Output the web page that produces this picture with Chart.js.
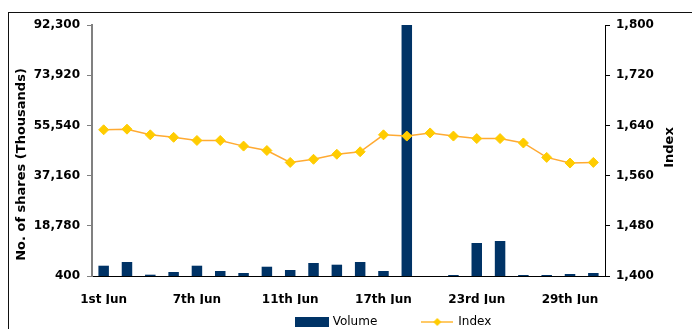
<!DOCTYPE html>
<html>
<head>
<meta charset="utf-8">
<script src="https://cdn.jsdelivr.net/npm/chart.js@4.4.1/dist/chart.umd.min.js"></script>
<style>
  html, body { margin: 0; padding: 0; background: #fff; }
  #wrap { position: relative; width: 692px; height: 329px; overflow: hidden; }
  #frame { position: absolute; left: 8px; top: 12px; width: 720px; height: 340px;
           border-left: 1px solid #111; border-top: 1px solid #111; pointer-events: none; }
</style>
</head>
<body>
<div id="wrap">
  <canvas id="volChart" width="692" height="329"></canvas>
  <div id="frame"></div>
</div>
<script>
const days = ["1st Jun", "2nd Jun", "3rd Jun", "4th Jun", "7th Jun", "8th Jun", "9th Jun",
  "10th Jun", "11th Jun", "14th Jun", "15th Jun", "16th Jun", "17th Jun", "18th Jun",
  "21st Jun", "22nd Jun", "23rd Jun", "24th Jun", "25th Jun", "28th Jun", "29th Jun", "30th Jun"];
const volume = [4170, 5520, 880, 1860, 4170, 2230, 1500, 3800, 2600, 5160, 4540,
  5520, 2230, 92300, 400, 770, 12480, 13210, 770, 770, 1130, 1500];
const indexVal = [1633, 1634, 1625, 1621, 1616, 1616, 1607, 1600, 1581, 1586, 1594,
  1598, 1625, 1623, 1628, 1623, 1619, 1619, 1612, 1589, 1580, 1581];
const volTicks = [400, 18780, 37160, 55540, 73920, 92300];
const idxTicks = [1400, 1480, 1560, 1640, 1720, 1800];
const volTitle = "No. of shares (Thousands)";
const idxTitle = "Index";

Chart.defaults.font.family = "'DejaVu Sans', sans-serif";
Chart.defaults.color = "#000";

function commas(v) {
  return String(v).replace(/\B(?=(\d{3})+(?!\d))/g, ",");
}

// legend swatches: navy block for volume, line with diamond for index
function volIcon() {
  const c = document.createElement("canvas");
  c.width = 34; c.height = 10;
  const g = c.getContext("2d");
  g.fillStyle = "#003366";
  g.fillRect(0, 0, 34, 10);
  return c;
}
function idxIcon() {
  const c = document.createElement("canvas");
  c.width = 32; c.height = 10;
  const g = c.getContext("2d");
  g.strokeStyle = "#FFC966";
  g.lineWidth = 2;
  g.beginPath(); g.moveTo(0, 5); g.lineTo(32, 5); g.stroke();
  g.fillStyle = "#FFCC00";
  g.beginPath(); g.moveTo(12, 5); g.lineTo(16, 1); g.lineTo(20, 5); g.lineTo(16, 9); g.closePath(); g.fill();
  return c;
}
const legendIcons = [volIcon(), idxIcon()];

// move legend row to where the original sits (keep bottom so it is not clipped)
const legendShift = {
  id: "legendShift",
  afterLayout(chart) {
    const lg = chart.legend;
    lg.left += 48; lg.right += 48;
    lg.top -= 33;
  }
};

// both axis titles read bottom-to-top, like the original
const axisTitles = {
  id: "axisTitles",
  afterDraw(chart) {
    const ctx = chart.ctx;
    const { y, y1 } = chart.scales;
    const mid = (y.top + y.bottom) / 2;
    const items = [
      [volTitle, y.left + 21.5, mid + 14],
      [idxTitle, y1.right - 22.5, mid - 3],
    ];
    ctx.save();
    ctx.font = "bold 13px 'DejaVu Sans'";
    ctx.fillStyle = "#000";
    ctx.textAlign = "center";
    ctx.textBaseline = "middle";
    items.forEach(([t, x, yy]) => {
      ctx.save();
      ctx.translate(x, yy);
      ctx.rotate(-Math.PI / 2);
      ctx.fillText(t, 0, 0);
      ctx.restore();
    });
    ctx.restore();
  }
};

const tickFont = { size: 12, weight: "bold" };

new Chart(document.getElementById("volChart"), {
  type: "bar",
  data: {
    labels: days,
    datasets: [
      {
        label: "Volume",
        data: volume,
        backgroundColor: "#003366",
        barPercentage: 0.45,
        categoryPercentage: 1.0,
        yAxisID: "y",
        order: 1,
      },
      {
        type: "line",
        label: "Index",
        data: indexVal,
        borderColor: "#FFAA33",
        borderWidth: 1.5,
        pointStyle: "rectRot",
        pointRadius: 5,
        pointBorderWidth: 1,
        pointBackgroundColor: "#FFCC00",
        pointBorderColor: "#FFCC00",
        tension: 0,
        yAxisID: "y1",
        order: 0,
      },
    ],
  },
  options: {
    responsive: false,
    animation: false,
    layout: { padding: { top: 25, left: 0, right: 0, bottom: 0 } },
    plugins: {
      tooltip: { enabled: false },
      legend: {
        position: "bottom",
        maxHeight: 25,
        labels: {
          usePointStyle: true,
          pointStyleWidth: 30,
          padding: 45,
          color: "#000",
          font: { size: 12 },
          sort: (a, b) => a.datasetIndex - b.datasetIndex,
          generateLabels(chart) {
            const items = Chart.defaults.plugins.legend.labels.generateLabels(chart);
            items.forEach((it) => { it.pointStyle = legendIcons[it.datasetIndex]; });
            return items;
          },
        },
      },
    },
    scales: {
      x: {
        grid: { drawOnChartArea: false, drawTicks: false },
        border: { color: "#000", width: 1 },
        ticks: {
          autoSkip: false,
          maxRotation: 0,
          padding: 17,
          font: tickFont,
          callback: (v, i) => (i % 4 === 0 ? days[i] : ""),
        },
        afterFit(s) { s.height = 28; },
      },
      y: {
        position: "left",
        min: 400,
        max: 92300,
        afterBuildTicks(s) { s.ticks = volTicks.map((v) => ({ value: v })); },
        grid: { drawOnChartArea: false, tickLength: 5, color: "#808080" },
        border: { color: "#808080", width: 2 },
        ticks: { padding: 7, font: tickFont, callback: (v) => commas(v) },
        afterFit(s) { s.width = 92; },
      },
      y1: {
        position: "right",
        min: 1400,
        max: 1800,
        afterBuildTicks(s) { s.ticks = idxTicks.map((v) => ({ value: v })); },
        grid: { drawOnChartArea: false, tickLength: 5, color: "#000" },
        border: { color: "#000", width: 1 },
        ticks: { padding: 6, font: tickFont, callback: (v) => commas(v) },
        afterFit(s) { s.width = 87; },
      },
    },
  },
  plugins: [legendShift, axisTitles],
});
</script>
</body>
</html>
